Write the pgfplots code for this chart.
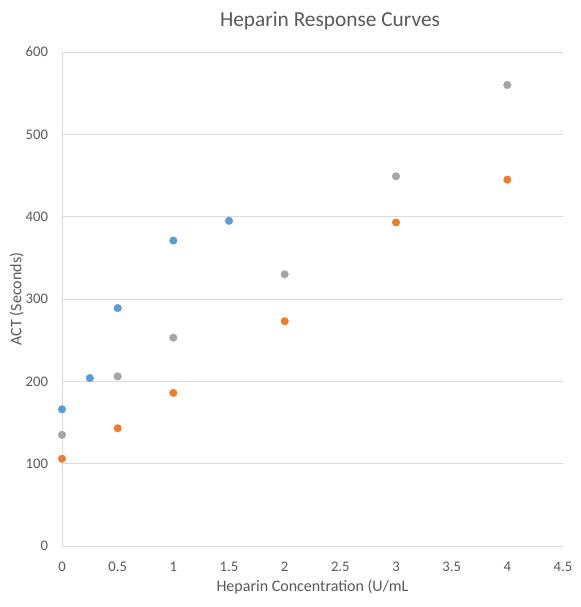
\documentclass[border=0pt]{standalone}
\usepackage{pgfplots}
\pgfplotsset{compat=1.18}
\usepackage{fontspec}
\setmainfont{Carlito}
\definecolor{sblue}{HTML}{5B9BD5}
\definecolor{sorange}{HTML}{ED7D31}
\definecolor{sgray}{HTML}{A5A5A5}
\definecolor{txt}{HTML}{595959}
\definecolor{gridc}{HTML}{D9D9D9}
\begin{document}
\begin{tikzpicture}
\begin{axis}[
  at={(46.5pt,45.75pt)}, anchor=south west,
  scale only axis, width=375.75pt, height=370.5pt,
  xmin=0, xmax=4.5, ymin=0, ymax=600,
  xtick={0,0.5,...,4.5}, ytick={0,100,...,600},
  xticklabels={0,0.5,1,1.5,2,2.5,3,3.5,4,4.5},
  axis lines*=left,
  axis line style={draw=gridc, line width=0.75pt},
  ymajorgrids, grid style={draw=gridc, line width=0.75pt},
  major tick length=0pt,
  tick label style={font=\fontsize{11}{13}\selectfont, text=txt},
  /pgf/number format/assume math mode=true,
  xticklabel style={anchor=center, yshift=-15.5pt},
  yticklabel style={anchor=east, xshift=-7pt},
  title={Heparin Response Curves},
  title style={at={(rel axis cs:0.535,1)}, anchor=center, yshift=17pt, font=\fontsize{16}{19}\selectfont, text=txt},
  xlabel={Heparin Concentration (U/mL},
  xlabel style={at={(rel axis cs:0.5,0)}, anchor=center, yshift=-31pt, font=\fontsize{12}{14}\selectfont, text=txt},
  ylabel={ACT (Seconds)},
  ylabel style={at={(rel axis cs:0,0.5)}, anchor=center, rotate=0, yshift=34pt, font=\fontsize{12}{14}\selectfont, text=txt},
  clip=false,
]
\addplot[only marks, mark=*, mark size=2.8pt, mark options={draw=sblue, fill=sblue}]
  coordinates {(0,166) (0.25,204) (0.5,289) (1,371) (1.5,395)};
\addplot[only marks, mark=*, mark size=2.8pt, mark options={draw=sorange, fill=sorange}]
  coordinates {(0,106) (0.5,143) (1,186) (2,273) (3,393) (4,445)};
\addplot[only marks, mark=*, mark size=2.8pt, mark options={draw=sgray, fill=sgray}]
  coordinates {(0,135) (0.5,206) (1,253) (2,330) (3,449) (4,560)};
\end{axis}
\pgfresetboundingbox
\path (0,0) rectangle (435.75pt,455.25pt);
\end{tikzpicture}
\end{document}
